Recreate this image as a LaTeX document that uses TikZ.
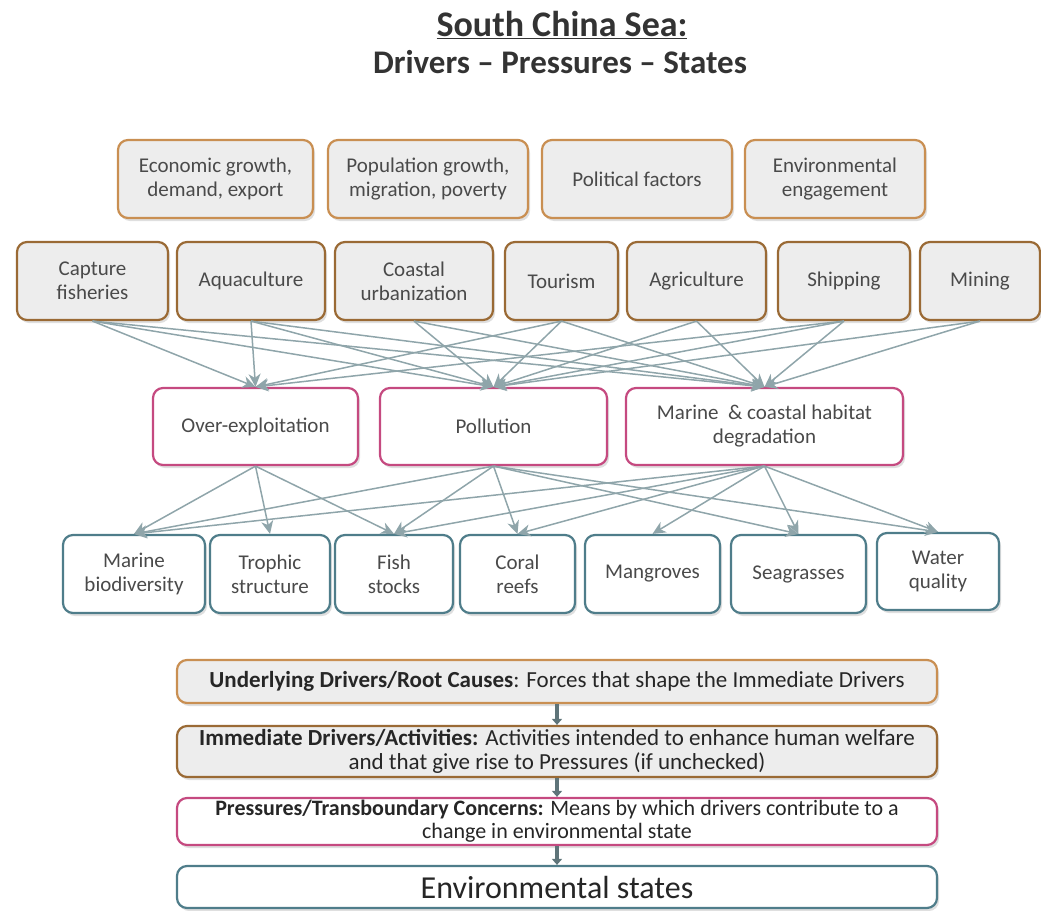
\documentclass[tikz,border=0pt]{standalone}
\usepackage{fontspec}
\setmainfont{Carlito}
\usetikzlibrary{arrows.meta,shadows}
\definecolor{rootline}{HTML}{C98F52}
\definecolor{actline}{HTML}{9A6A35}
\definecolor{presline}{HTML}{C54A80}
\definecolor{stateline}{HTML}{4F7D8A}
\definecolor{boxfill}{HTML}{EDEDED}
\definecolor{boxtext}{HTML}{4A4A4A}
\definecolor{flowc}{HTML}{8FA5AA}
\definecolor{stepc}{HTML}{5E7479}
\tikzset{
  box/.style={rounded corners=10pt, line width=2.2pt, align=center, text=boxtext,
    font=\fontsize{21}{24}\selectfont, inner sep=2pt,
    drop shadow={shadow xshift=2pt, shadow yshift=-3pt, opacity=0.25}},
  rootbox/.style={box, draw=rootline, fill=boxfill},
  actbox/.style={box, draw=actline, fill=boxfill},
  presbox/.style={box, draw=presline, fill=white},
  statebox/.style={box, draw=stateline, fill=white},
  keybox/.style={minimum width=760pt, text=black!85, font=\fontsize{23}{24}\selectfont},
  flow/.style={draw=flowc, line width=1.5pt, -{Stealth[length=13pt,width=12pt,inset=4pt]}},
  stepflow/.style={draw=stepc, line width=3.5pt, -{Triangle[length=6pt,width=10pt]}}
}
\begin{document}
\begin{tikzpicture}[x=1pt,y=-1pt]
  \useasboundingbox (0,0) rectangle (1041,910);
  \node[font=\fontsize{36}{40}\selectfont\bfseries, text=black!80] (title) at (562,25) {\underline{South China Sea:}};
  \node[font=\fontsize{33}{36}\selectfont\bfseries, text=black!80] (subtitle) at (560,62) {Drivers -- Pressures -- States};
  % underlying drivers
  \node[rootbox, minimum width=195pt, minimum height=78pt] (econ) at (215.5,179) {Economic growth,\\demand, export};
  \node[rootbox, minimum width=200pt, minimum height=78pt] (popu) at (428,179) {Population growth,\\migration, poverty};
  \node[rootbox, minimum width=190pt, minimum height=78pt] (poli) at (637,179) {Political factors};
  \node[rootbox, minimum width=180pt, minimum height=78pt] (envi) at (835,179) {Environmental\\engagement};
  % activities
  \node[actbox, minimum width=151pt, minimum height=78pt] (capt) at (92.5,281) {Capture\\fisheries};
  \node[actbox, minimum width=148pt, minimum height=78pt] (aqua) at (251,281) {Aquaculture};
  \node[actbox, minimum width=158pt, minimum height=78pt] (coast) at (414,281) {Coastal\\urbanization};
  \node[actbox, minimum width=113pt, minimum height=78pt] (tour) at (561.5,281) {Tourism};
  \node[actbox, minimum width=139pt, minimum height=78pt] (agri) at (696.5,281) {Agriculture};
  \node[actbox, minimum width=132pt, minimum height=78pt] (ship) at (844,281) {Shipping};
  \node[actbox, minimum width=120pt, minimum height=78pt] (mine) at (980,281) {Mining};
  % pressures
  \node[presbox, minimum width=205pt, minimum height=77pt] (overex) at (255.5,426.5) {Over-exploitation};
  \node[presbox, minimum width=227pt, minimum height=77pt] (pollu) at (493.5,426.5) {Pollution};
  \node[presbox, minimum width=277pt, minimum height=77pt] (habdeg) at (764.5,426.5) {Marine\ \ \& coastal habitat\\degradation};
  % states
  \node[statebox, minimum width=142pt, minimum height=78pt] (biodiv) at (134,574) {Marine\\biodiversity};
  \node[statebox, minimum width=120pt, minimum height=78pt] (troph) at (270,574) {Trophic\\structure};
  \node[statebox, minimum width=118pt, minimum height=78pt] (fish) at (394,574) {Fish\\stocks};
  \node[statebox, minimum width=115pt, minimum height=78pt] (coral) at (517.5,574) {Coral\\reefs};
  \node[statebox, minimum width=135pt, minimum height=78pt] (mangr) at (652.5,574) {Mangroves};
  \node[statebox, minimum width=135pt, minimum height=78pt] (seagr) at (798.5,574) {Seagrasses};
  \node[statebox, minimum width=122pt, minimum height=77pt] (water) at (938,571.5) {Water\\quality};
  % activities -> pressures
  \foreach \s/\t in {capt/overex, capt/pollu, capt/habdeg, aqua/overex, aqua/pollu, aqua/habdeg,
      coast/pollu, coast/habdeg, tour/overex, tour/pollu, tour/habdeg, agri/pollu, agri/habdeg,
      ship/overex, ship/pollu, ship/habdeg, mine/pollu, mine/habdeg}
    \draw[flow] (\s.south) -- (\t.north);
  % pressures -> states
  \foreach \s/\t in {overex/biodiv, overex/troph, overex/fish,
      pollu/biodiv, pollu/fish, pollu/coral, pollu/seagr, pollu/water,
      habdeg/biodiv, habdeg/fish, habdeg/coral, habdeg/mangr, habdeg/seagr, habdeg/water}
    \draw[flow] (\s.south) -- (\t.north);
  % key
  \node[rootbox, keybox, minimum height=43pt] (lroot) at (557,681.5)
    {\textbf{Underlying Drivers/Root Causes}: Forces that shape the Immediate Drivers};
  \node[actbox, keybox, minimum height=51pt] (lact) at (557,751.5)
    {\textbf{Immediate Drivers/Activities:} Activities intended to enhance human welfare\\and that give rise to Pressures (if unchecked)};
  \node[presbox, keybox, minimum height=47pt, font=\fontsize{22}{23}\selectfont, inner sep=0pt] (lpres) at (557,821.5)
    {\textbf{Pressures/Transboundary Concerns:} Means by which drivers contribute to a\\change in environmental state};
  \node[statebox, keybox, minimum height=42pt, font=\fontsize{32}{34}\selectfont] (lstate) at (557,887)
    {Environmental states};
  \draw[stepflow] (lroot.south) -- (lact.north);
  \draw[stepflow] (lact.south) -- (lpres.north);
  \draw[stepflow] (lpres.south) -- (lstate.north);
\end{tikzpicture}
\end{document}
